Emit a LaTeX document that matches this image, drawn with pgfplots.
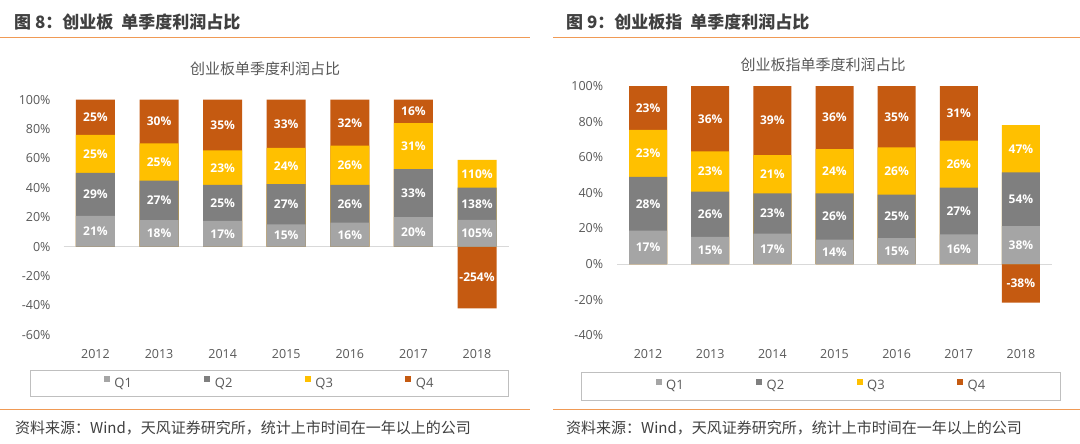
\documentclass[border=0pt]{standalone}
\usepackage{pgfplots}
\pgfplotsset{compat=1.18}
\usepackage{pgfplotstable}
\usepackage{fontspec}
\setmainfont{Open Sans}
\newfontfamily\cjk{Noto Sans CJK SC}
\definecolor{cq1}{HTML}{A5A5A5}
\definecolor{cq2}{HTML}{7F7F7F}
\definecolor{cq3}{HTML}{FFC000}
\definecolor{cq4}{HTML}{C55A11}
\definecolor{hline}{HTML}{F09A55}
\definecolor{txt}{HTML}{595959}
\definecolor{hdr}{HTML}{404040}
\definecolor{zl}{HTML}{D9D9D9}
\definecolor{lgb}{HTML}{BFBFBF}

% cumulative tops of each stacked segment (Q4 of 2018 is negative, from 0)
\pgfplotstableread{
x q1 q2 q3 q4
0 21.0 50.3 76.0 100
1 18.1 44.9 70.3 100
2 17.5 42.0 65.5 100
3 15.2 42.6 67.3 100
4 16.3 42.0 68.7 100
5 20.2 52.8 84.1 100
6 18.2 40.2 59.1 -42
}\cumA
\pgfplotstableread{
x y lab
0 10.5 21
0 35.6 29
0 63.1 25
0 88.0 25
1 9.0 18
1 31.5 27
1 57.6 25
1 85.1 30
2 8.7 17
2 29.7 25
2 53.7 23
2 82.7 35
3 7.6 15
3 28.9 27
3 55.0 24
3 83.6 33
4 8.1 16
4 29.1 26
4 55.3 26
4 84.3 32
5 10.1 20
5 36.5 33
5 68.4 31
5 92.0 16
6 9.1 105
6 29.2 138
6 49.6 110
6 -21.0 -254
}\labA

\pgfplotstableread{
x q1 q2 q3 q4
0 18.7 49.0 75.3 100
1 15.2 40.6 63.3 100
2 17.0 39.7 61.2 100
3 13.7 39.7 64.6 100
4 14.6 39.0 65.5 100
5 16.7 42.9 69.3 100
6 21.3 51.5 78.0 -21.7
}\cumB
\pgfplotstableread{
x y lab
0 9.3 17
0 33.8 28
0 62.1 23
0 87.6 23
1 7.6 15
1 27.9 26
1 52.0 23
1 81.6 36
2 8.5 17
2 28.3 23
2 50.4 21
2 80.6 39
3 6.8 14
3 26.7 26
3 52.1 24
3 82.3 36
4 7.3 15
4 26.8 25
4 52.2 26
4 82.7 35
5 8.3 16
5 29.8 27
5 56.1 26
5 84.6 31
6 10.6 38
6 36.4 54
6 64.7 47
6 -10.8 -38
}\labB

\newcommand{\legtxt}[1]{\makebox[90.5pt][l]{\hspace{2.5pt}#1}}

\pgfplotsset{
  qbars/.style={
    scale only axis, ybar, bar shift=0pt, clip=false,
    xmin=-0.5, xmax=6.5, xtick={0,1,2,3,4,5,6},
    xticklabels={2012,2013,2014,2015,2016,2017,2018},
    axis line style={draw=none}, major tick length=0pt,
    yticklabel={\pgfmathprintnumber{\tick}\%},
    /pgf/number format/assume math mode=true,
    ticklabel style={font=\fontsize{12.5}{14}\selectfont, text=txt},
    xticklabel style={anchor=center, yshift=-19pt},
    yticklabel style={anchor=east, inner sep=0pt, xshift=-13pt},
    legend columns=4, reverse legend, legend cell align=left,
    legend style={draw=none, fill=none, anchor=west, inner sep=0pt, outer sep=0pt,
      font=\fontsize{13}{15}\selectfont, text=txt,
      /tikz/every even column/.append style={column sep=0pt}},
    every axis plot post/.append style={bar shift=0pt,
      legend image code/.code={\path[##1, draw=none] (0pt,1.5pt) rectangle (6pt,7.5pt);}},
  },
  lbl/.style={draw=none, fill=none, forget plot,
    point meta=explicit symbolic,
    nodes near coords={\pgfplotspointmeta\%},
    nodes near coords align=center,
    every node near coord/.append style={anchor=center, font=\bfseries\fontsize{12}{14}\selectfont, text=white}},
}

\begin{document}
\begin{tikzpicture}
\useasboundingbox (0,0) rectangle (1080pt,-444pt);
\fill[white] (0,0) rectangle (1080pt,-444pt);

% headers
\node[anchor=west, inner sep=0pt, text=hdr, font=\cjk\bfseries\fontsize{17}{19}\selectfont] at (14pt,-21.7pt) {图 8：创业板\hspace{4pt} 单季度利润占比};
\node[anchor=west, inner sep=0pt, text=hdr, font=\cjk\bfseries\fontsize{17}{19}\selectfont] at (566pt,-21.7pt) {图 9：创业板指\hspace{4pt} 单季度利润占比};
\draw[hline, line width=1.2pt] (0pt,-37.7pt) -- (530pt,-37.7pt);
\draw[hline, line width=1.2pt] (553pt,-37.7pt) -- (1080pt,-37.7pt);

% chart titles
\node[inner sep=0pt, text=txt, font=\cjk\fontsize{15}{17}\selectfont] at (265pt,-69pt) {创业板单季度利润占比};
\node[inner sep=0pt, text=txt, font=\cjk\fontsize{15}{17}\selectfont] at (823pt,-65pt) {创业板指单季度利润占比};

% legend frames
\draw[lgb, line width=0.9pt] (30pt,-370pt) rectangle (508pt,-396.7pt);
\draw[lgb, line width=0.9pt] (581.7pt,-372.7pt) rectangle (1060pt,-400pt);

% footers
\draw[hline, line width=1.2pt] (0pt,-409.3pt) -- (530pt,-409.3pt);
\draw[hline, line width=1.2pt] (553pt,-409.3pt) -- (1080pt,-409.3pt);
\node[anchor=west, inner sep=0pt, text=hdr, font=\cjk\fontsize{15}{17}\selectfont] at (15pt,-427.7pt) {资料来源：Wind，天风证券研究所，统计上市时间在一年以上的公司};
\node[anchor=west, inner sep=0pt, text=hdr, font=\cjk\fontsize{15}{17}\selectfont] at (566pt,-427.7pt) {资料来源：Wind，天风证券研究所，统计上市时间在一年以上的公司};

\begin{axis}[qbars, at={(63.7pt,-334.9pt)}, anchor=south west,
  width=445.1pt, height=235.2pt, ymin=-60, ymax=100,
  ytick={-60,-40,-20,0,20,40,60,80,100}, bar width=39pt,
  legend style={at={(0.0905,-0.2058)}}]
\draw[zl, line width=0.8pt] (axis cs:-0.5,0) -- (axis cs:6.5,0);
\addplot[fill=cq4, draw=none] table[x=x, y=q4] {\cumA};
\addlegendentry{\legtxt{Q4}}
\addplot[fill=cq3, draw=none] table[x=x, y=q3] {\cumA};
\addlegendentry{\legtxt{Q3}}
\addplot[fill=cq2, draw=none] table[x=x, y=q2] {\cumA};
\addlegendentry{\legtxt{Q2}}
\addplot[fill=cq1, draw=none] table[x=x, y=q1] {\cumA};
\addlegendentry{\legtxt{Q1}}
\addplot[lbl] table[x=x, y=y, meta=lab] {\labA};
\end{axis}

\begin{axis}[qbars, at={(617pt,-335.2pt)}, anchor=south west,
  width=435pt, height=249.2pt, ymin=-40, ymax=100,
  ytick={-40,-20,0,20,40,60,80,100}, bar width=38pt,
  yticklabel style={xshift=-0.7pt},
  legend style={at={(0.0890,-0.2039)}}]
\draw[zl, line width=0.8pt] (axis cs:-0.5,0) -- (axis cs:6.5,0);
\addplot[fill=cq4, draw=none] table[x=x, y=q4] {\cumB};
\addlegendentry{\legtxt{Q4}}
\addplot[fill=cq3, draw=none] table[x=x, y=q3] {\cumB};
\addlegendentry{\legtxt{Q3}}
\addplot[fill=cq2, draw=none] table[x=x, y=q2] {\cumB};
\addlegendentry{\legtxt{Q2}}
\addplot[fill=cq1, draw=none] table[x=x, y=q1] {\cumB};
\addlegendentry{\legtxt{Q1}}
\addplot[lbl] table[x=x, y=y, meta=lab] {\labB};
\end{axis}
\end{tikzpicture}
\end{document}
